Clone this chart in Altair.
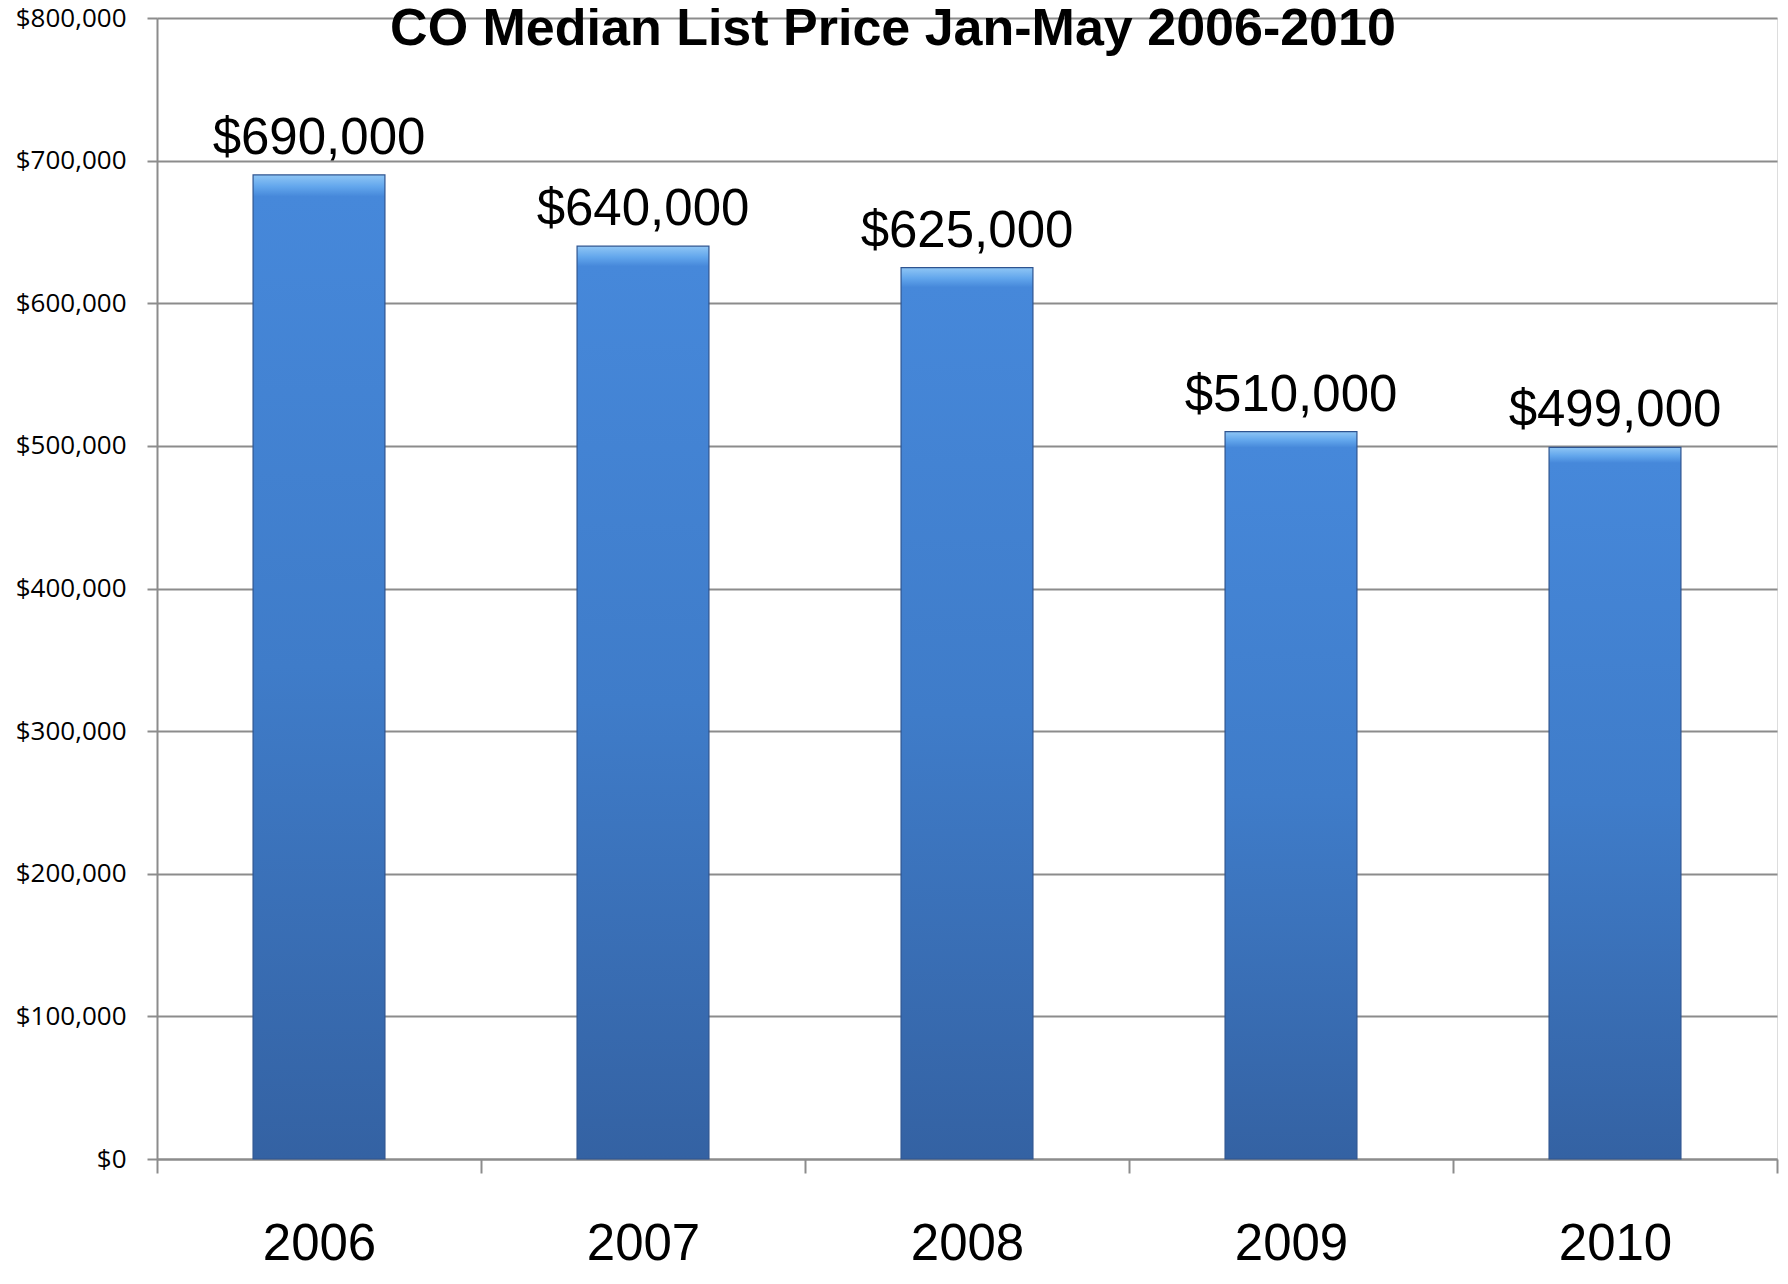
import altair as alt
import pandas as pd

years = ["2006", "2007", "2008", "2009", "2010"]
prices = [690000, 640000, 625000, 510000, 499000]
labels = ["$690,000", "$640,000", "$625,000", "$510,000", "$499,000"]

df = pd.DataFrame({"year": years, "price": prices, "label": labels})

grad = alt.Gradient(
    gradient="linear",
    stops=[
        alt.GradientStop(color="#8fc6f5", offset=0),
        alt.GradientStop(color="#62a6ec", offset=0.012),
        alt.GradientStop(color="#4688da", offset=0.022),
        alt.GradientStop(color="#3f7cc9", offset=0.5),
        alt.GradientStop(color="#3462a3", offset=1),
    ],
    x1=0, x2=0, y1=0, y2=1,
)

x = alt.X(
    "year:N",
    sort=years,
    scale=alt.Scale(paddingInner=0, paddingOuter=0),
    axis=alt.Axis(
        title=None,
        labelAngle=0,
        labelFont="Liberation Sans",
        labelFontSize=51,
        labelColor="#000000",
        labelPadding=46,
        tickBand="extent",
        tickSize=14,
        tickColor="#8c8c8c",
        tickWidth=2,
        domainColor="#8c8c8c",
        domainWidth=2,
        grid=False,
    ),
)

y = alt.Y(
    "price:Q",
    scale=alt.Scale(domain=[0, 800000], nice=False),
    axis=alt.Axis(
        title=None,
        values=[0, 100000, 200000, 300000, 400000, 500000, 600000, 700000, 800000],
        format="$,.0f",
        labelFont="Open Sans",
        labelFontSize=26,
        labelColor="#000000",
        labelPadding=21,
        tickSize=10,
        tickColor="#8c8c8c",
        tickWidth=2,
        domainColor="#8c8c8c",
        domainWidth=2,
        grid=True,
        gridColor="#8c8c8c",
        gridWidth=2,
    ),
)

bars = alt.Chart(df).mark_bar(
    color=grad, stroke="#2e5490", strokeWidth=1.2, width={"band": 0.407}
).encode(x=x, y=y)

text = alt.Chart(df).mark_text(
    font="Liberation Sans", fontSize=51, baseline="alphabetic", dy=-21, color="#000000"
).encode(x=alt.X("year:N", sort=years), y="price:Q", text="label:N")

chart = (
    alt.layer(bars, text)
    .properties(
        width=1620,
        height=1141,
        autosize=alt.AutoSizeParams(type="none"),
        padding={"left": 149, "top": 10, "right": 3, "bottom": 116},
        title=alt.TitleParams(
            "CO Median List Price Jan-May 2006-2010",
            font="Liberation Sans",
            fontSize=52,
            fontWeight="bold",
            color="#000000",
            anchor="middle",
            baseline="top",
            offset=-51,
            dx=-74,
        ),
    )
    .configure_view(stroke="#8c8c8c", strokeWidth=2)
    .configure(background="white")
)

chart.save("out.html", embed_options={"renderer": "svg", "actions": False})
